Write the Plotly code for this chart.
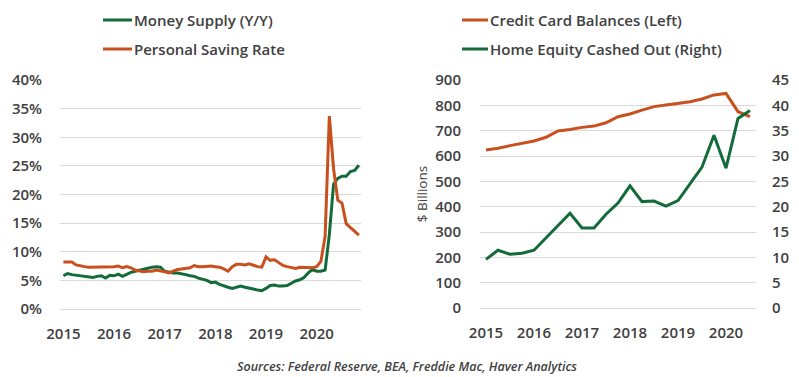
import plotly.graph_objects as go
import pandas as pd

# ---------------- Data ----------------
# Left panel: monthly, Jan 2015 - Nov 2020
months = list(pd.date_range("2015-01-01", periods=71, freq="MS").strftime("%Y-%m"))
money_supply = [5.8, 6.2, 6.0, 5.9, 5.8, 5.6, 5.6, 5.5, 5.7, 5.8, 5.4, 5.9,
                5.8, 6.1, 5.7, 6.1, 6.4, 6.6, 6.8, 7.0, 7.2, 7.3, 7.4, 7.3,
                6.6, 6.4, 6.3, 6.3, 6.2, 6.0, 5.8, 5.7, 5.4, 5.2, 5.0, 4.6,
                4.7, 4.3, 4.0, 3.8, 3.6, 3.8, 4.0, 3.8, 3.7, 3.5, 3.3, 3.2,
                3.6, 4.1, 4.2, 4.0, 4.0, 4.1, 4.5, 4.9, 5.1, 5.5, 6.3, 6.9,
                6.6, 6.6, 6.8, 13.0, 21.8, 22.8, 23.2, 23.2, 24.0, 24.2, 25.1]
saving_rate = [8.2, 8.2, 8.2, 7.7, 7.5, 7.4, 7.3, 7.3, 7.3, 7.3, 7.4, 7.3,
               7.4, 7.5, 7.2, 7.4, 7.2, 6.8, 6.6, 6.5, 6.6, 6.6, 6.8, 6.7,
               6.5, 6.3, 6.6, 6.9, 7.0, 7.1, 7.2, 7.6, 7.4, 7.4, 7.5, 7.5,
               7.4, 7.3, 7.0, 6.6, 7.4, 7.8, 7.8, 7.7, 7.9, 7.6, 7.4, 7.3,
               9.1, 8.5, 8.6, 8.1, 7.6, 7.4, 7.2, 7.1, 7.3, 7.3, 7.3, 7.2,
               7.4, 8.3, 12.7, 33.7, 24.5, 19.0, 18.5, 14.9, 14.2, 13.5, 12.9]
left_ticks = ["2015", "2016", "2017", "2018", "2019", "2020"]

# Right panel: quarterly, 2015Q1 - 2020Q3
quarters = [f"{y}Q{q}" for y in range(2015, 2021) for q in range(1, 5)][:23]
credit_card = [624, 631, 641, 650, 659, 674, 699, 705, 713, 718, 731, 755,
               766, 781, 795, 801, 808, 814, 825, 841, 847, 775, 755]
home_equity = [9.6, 11.4, 10.6, 10.8, 11.4, 13.8, 16.3, 18.7, 15.8, 15.8, 18.5, 20.7,
               24.1, 21.0, 21.1, 20.1, 21.2, 24.6, 27.8, 34.1, 27.6, 37.4, 39.0]
right_ticks = ["2015", "2016", "2017", "2018", "2019", "2020"]

GREEN = "#146b3a"
RED = "#c8501e"
TXT = "#404040"
GRID = "#d9d9d9"
FONT = "Open Sans"
OFF = 8  # page body margin
W, H = 799 - OFF, 377 - OFF

def px(x):
    return (x - OFF) / W

def py(y):
    return 1 - (y - OFF) / H

fig = go.Figure()

fig.add_trace(go.Scatter(x=months, y=money_supply, mode="lines", name="Money Supply (Y/Y)",
                         line=dict(color=GREEN, width=3), xaxis="x", yaxis="y"))
fig.add_trace(go.Scatter(x=months, y=saving_rate, mode="lines", name="Personal Saving Rate",
                         line=dict(color=RED, width=3), xaxis="x", yaxis="y"))
fig.add_trace(go.Scatter(x=quarters, y=home_equity, mode="lines", name="Home Equity Cashed Out (Right)",
                         line=dict(color=GREEN, width=3), xaxis="x2", yaxis="y3"))
fig.add_trace(go.Scatter(x=quarters, y=credit_card, mode="lines", name="Credit Card Balances (Left)",
                         line=dict(color=RED, width=3), xaxis="x2", yaxis="y2"))

tickfont = dict(family=FONT, size=15, color=TXT, weight=600)

fig.update_layout(
    template="none",
    width=W, height=H,
    margin=dict(l=0, r=0, t=0, b=0, pad=0),
    paper_bgcolor="white", plot_bgcolor="white",
    showlegend=False,
    xaxis=dict(domain=[px(60), px(361)], type="category", range=[-0.8, 70.5], automargin=False,
               tickmode="array", tickvals=[months[i] for i in range(0, 71, 12)], ticktext=left_ticks,
               showgrid=False, zeroline=False, showline=False,
               ticks="outside", ticklen=11, tickcolor="rgba(0,0,0,0)", tickfont=tickfont,
               anchor="y"),
    yaxis=dict(domain=[py(309), py(80)], range=[0, 40], dtick=5, ticksuffix="%", automargin=False,
               showgrid=True, gridcolor=GRID, gridwidth=1, zeroline=True, zerolinecolor=GRID,
               zerolinewidth=1, showline=False,
               ticks="outside", ticklen=14, tickcolor="rgba(0,0,0,0)", tickfont=tickfont,
               anchor="x"),
    xaxis2=dict(domain=[px(480), px(756)], type="category", range=[-0.5, 22.5], automargin=False,
                tickmode="array", tickvals=[quarters[i] for i in range(0, 23, 4)], ticktext=right_ticks,
                showgrid=False, zeroline=False, showline=False,
                ticks="outside", ticklen=11, tickcolor="rgba(0,0,0,0)", tickfont=tickfont,
                anchor="y2"),
    yaxis2=dict(domain=[py(308), py(80)], range=[0, 900], dtick=100, automargin=False,
                showgrid=True, gridcolor=GRID, gridwidth=1, zeroline=True, zerolinecolor=GRID,
                zerolinewidth=1, showline=False,
                ticks="outside", ticklen=15, tickcolor="rgba(0,0,0,0)", tickfont=tickfont,
                title=dict(text="$ Billions", font=dict(family=FONT, size=13.5, color=TXT), standoff=4),
                anchor="x2"),
    yaxis3=dict(range=[0, 45], dtick=5, overlaying="y2", side="right", automargin=False,
                showgrid=False, zeroline=False, showline=False,
                ticks="outside", ticklen=12, tickcolor="rgba(0,0,0,0)", tickfont=tickfont,
                anchor="x2"),
)

legend_items = [
    (103, 132, 20, GREEN, "Money Supply (Y/Y)"),
    (103, 132, 49, RED, "Personal Saving Rate"),
    (462, 488, 20, RED, "Credit Card Balances (Left)"),
    (462, 488, 49, GREEN, "Home Equity Cashed Out (Right)"),
]
for x0, x1, yy, col, label in legend_items:
    fig.add_shape(type="line", xref="paper", yref="paper", x0=px(x0), x1=px(x1), y0=py(yy), y1=py(yy),
                  line=dict(color=col, width=3))
    fig.add_annotation(xref="paper", yref="paper", x=px(x1), y=py(yy), xanchor="left", yanchor="middle",
                       text=label, showarrow=False,
                       font=dict(family=FONT, size=15, color=TXT, weight=600))

fig.add_annotation(xref="paper", yref="paper", x=px(407), y=py(366), xanchor="center", yanchor="middle",
                   text="Sources: Federal Reserve, BEA, Freddie Mac, Haver Analytics", showarrow=False,
                   font=dict(family=FONT, size=12.5, color=TXT, weight=600, style="italic"))

fig.write_html("out.html")
